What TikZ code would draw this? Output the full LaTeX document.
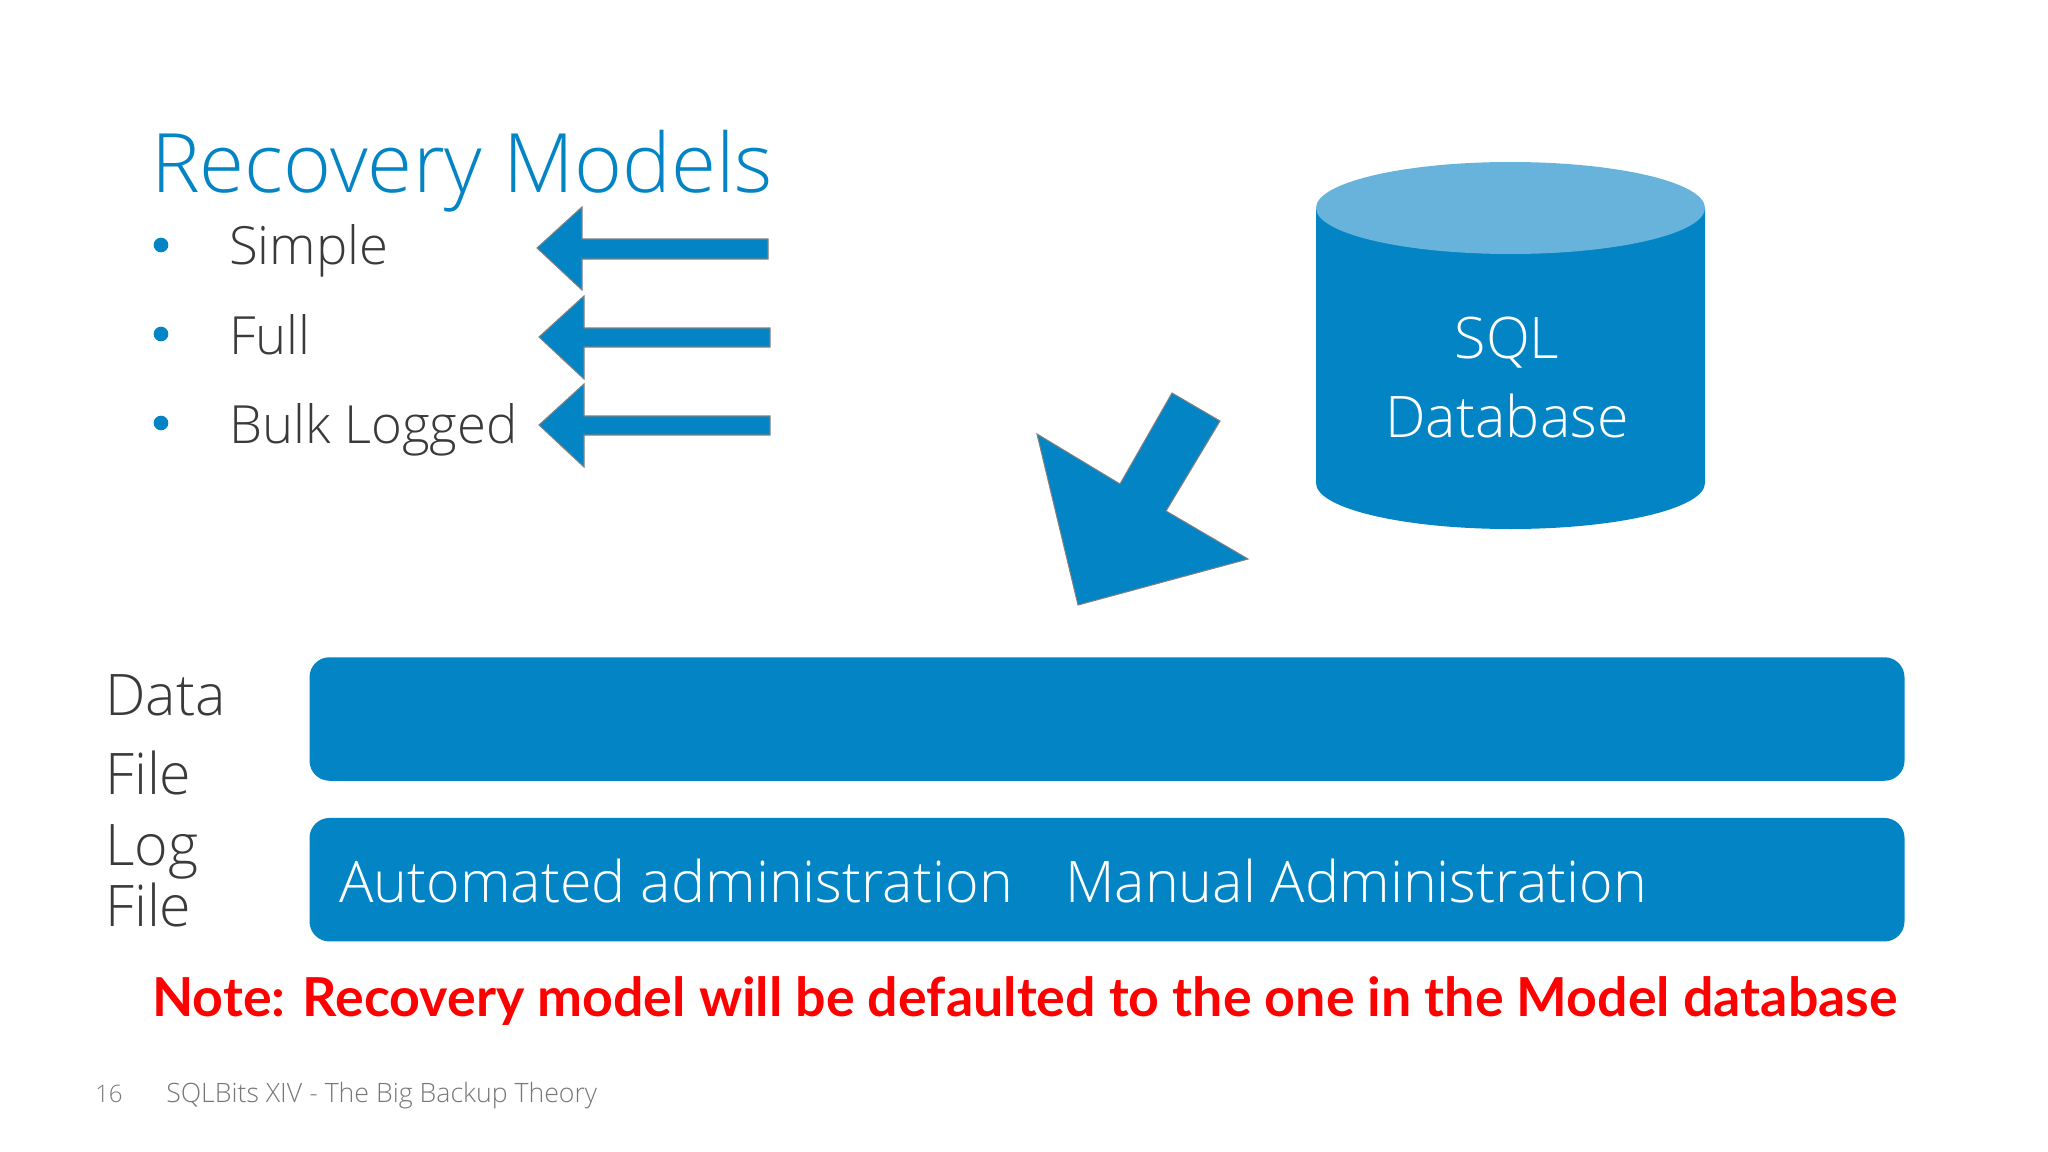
\documentclass[tikz,border=0pt]{standalone}
\usepackage{fontspec}
\setmainfont{Open Sans}[UprightFont={* Light}, BoldFont={* Bold}]
\newfontfamily\notefont{Lato}
\usetikzlibrary{positioning}
\definecolor{dellblue}{HTML}{0284C5}
\definecolor{lidblue}{HTML}{67B3DB}
\definecolor{greytext}{HTML}{3A3A3A}
\definecolor{footgrey}{HTML}{777777}

\begin{document}
\begin{tikzpicture}[
x=0.75pt, y=-0.75pt,
filebar/.style={rectangle, rounded corners=15pt, fill=dellblue, minimum width=1595*0.75pt, minimum height=123.5*0.75pt, inner sep=0pt},
label/.style={anchor=base west, inner sep=0pt, text=greytext, font=\fontsize{43}{43}\selectfont},
model/.style={anchor=base west, inner sep=0pt, text=greytext, font=\fontsize{39.5}{39.5}\selectfont},
dot/.style={circle, fill=dellblue, minimum size=11pt, inner sep=0pt},
onbar/.style={anchor=base west, inner sep=0pt, text=white, font=\fontsize{43}{43}\selectfont},
footer/.style={anchor=base west, inner sep=0pt, text=footgrey},
blockarrow/.style={fill=dellblue, draw=gray, line width=0.8pt, line join=miter},
node distance=27.5pt
]
\useasboundingbox (0,0) rectangle (2048,1152);
%Nodes
\node[anchor=base west, inner sep=0pt, text=dellblue, font=\fontsize{61.5}{61.5}\selectfont] (Title) at (151,192) {Recovery Models};

\node[dot] (D1) at (161,245) {};
\node[dot] (D2) at (161,334) {};
\node[dot] (D3) at (161,423) {};
\node[model] (Simple) at (229,264) {Simple};
\node[model] (Full) at (229,354) {Full};
\node[model] (Bulk) at (229,443) {Bulk Logged};

\node[filebar] (DataBar) at (1107,719) {};
\node[filebar] (LogBar) [below=of DataBar] {};
\node[label] (Data) at (105,715) {Data};
\node[label] (File1) at (105,794) {File};
\node[label] (Log) at (105,865) {Log};
\node[label] (File2) at (105,926) {File};
\node[onbar] (Auto) at (339,902) {Automated administration};
\node[onbar] (Manual) at (1065,902) {Manual Administration};

\node[anchor=base west, inner sep=0pt, text=red, font=\notefont\bfseries\fontsize{40.3}{40.3}\selectfont] (Note) at (152,1016) {Note: Recovery model will be defaulted to the one in the Model database};
\node[footer, font=\fontsize{18}{18}\selectfont] (Page) at (95,1102) {16};
\node[footer, font=\fontsize{20}{20}\selectfont] (Foot) at (166,1102) {SQLBits XIV - The Big Backup Theory};

%Database
\fill[dellblue] (1316,208) -- (1316,483) arc[start angle=180, end angle=0, x radius=194.5, y radius=46] -- (1705,208) -- cycle;
\fill[lidblue] (1510.5,208) ellipse[x radius=194.5, y radius=46];
\node[text=white, inner sep=0pt, anchor=base, font=\fontsize{43}{43}\selectfont] (SQL) at (1507,358) {SQL};
\node[text=white, inner sep=0pt, anchor=base, font=\fontsize{43}{43}\selectfont] (Database) at (1507,437) {Database};

%Arrows
\draw[blockarrow] (768,239) -- (582,239) -- (582,207) -- (537,248) -- (582,290) -- (582,259) -- (768,259) -- cycle;
\draw[blockarrow] (770,328) -- (584,328) -- (584,296) -- (539,337) -- (584,379) -- (584,347) -- (770,347) -- cycle;
\draw[blockarrow] (770,416) -- (584,416) -- (584,384) -- (539,425) -- (584,467) -- (584,435) -- (770,435) -- cycle;
\draw[blockarrow] (1172,393) -- (1220,421) -- (1166,511) -- (1248,559) -- (1078,605) -- (1037,434) -- (1120,484) -- cycle;
\end{tikzpicture}
\end{document}
